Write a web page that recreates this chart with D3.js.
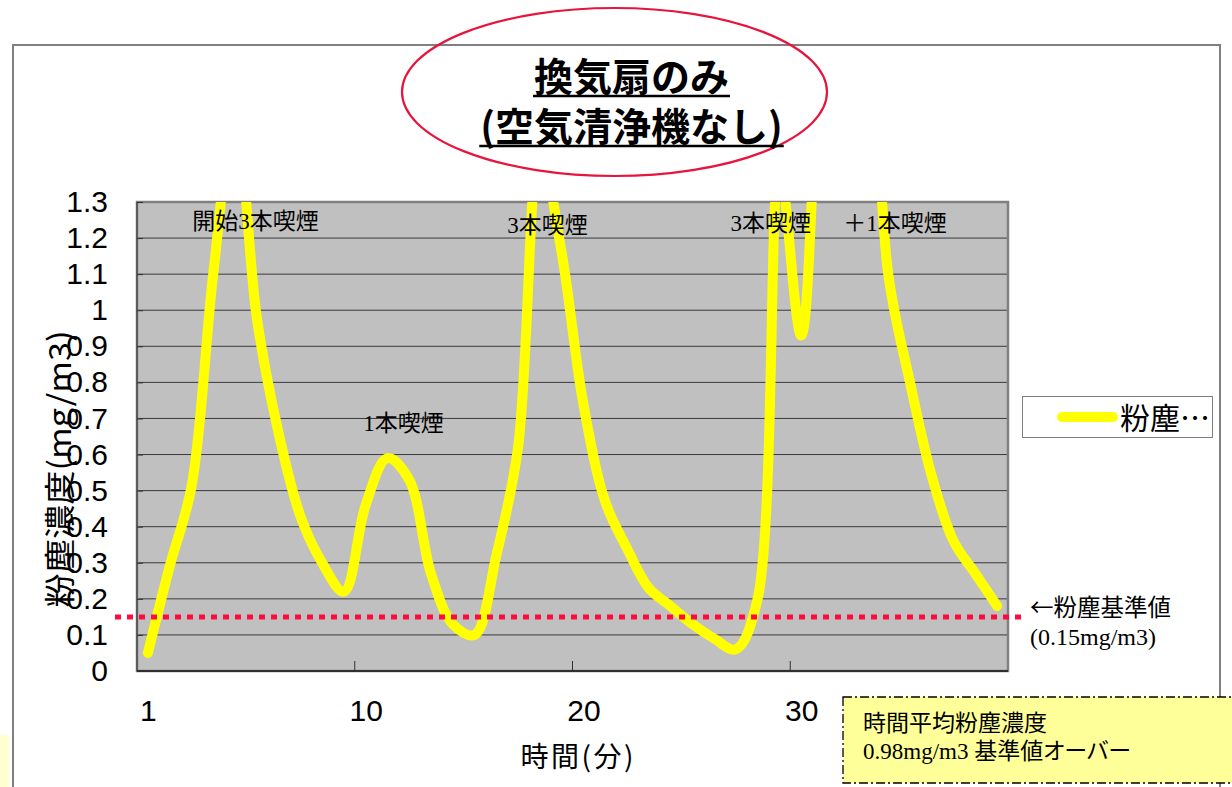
<!DOCTYPE html>
<html>
<head>
<meta charset="utf-8">
<script src="https://cdn.jsdelivr.net/npm/d3@7"></script>
<style>
  body { margin: 0; background: #ffffff; }
  svg { display: block; }
</style>
</head>
<body>
<svg id="chart" width="1232" height="787"></svg>
<script>
// Dust concentration (mg/m3), one reading per minute
const dust = [
  0.05, 0.29, 0.51, 1.10, 1.55, 0.98, 0.66, 0.43, 0.30, 0.22,
  0.46, 0.59, 0.53, 0.27, 0.13, 0.10, 0.32, 0.62, 1.45, 1.16,
  0.74, 0.47, 0.34, 0.23, 0.18, 0.13, 0.09, 0.06, 0.20, 1.40,
  0.93, 1.80, 2.10, 1.90, 1.10, 0.80, 0.54, 0.36, 0.27, 0.18
];
const yTicks = [0, 0.1, 0.2, 0.3, 0.4, 0.5, 0.6, 0.7, 0.8, 0.9, 1.0, 1.1, 1.2, 1.3];
const yTickLabels = ["0", "0.1", "0.2", "0.3", "0.4", "0.5", "0.6", "0.7", "0.8", "0.9", "1", "1.1", "1.2", "1.3"];
const xTickIndex = [0, 10, 20, 30];
const xTickLabels = ["1", "10", "20", "30"];
const xTickMarks = [10, 20, 30];
const standardValue = 0.15;

// Smoking events written inside the plot (position in minute index / concentration)
const eventLabels = ["開始3本喫煙", "1本喫煙", "3本喫煙", "3本喫煙", "＋1本喫煙"];
const eventIndex = [4.94, 11.74, 18.35, 28.61, 34.31];
const eventLevel = [1.25, 0.69, 1.239, 1.244, 1.244];

const svg = d3.select("#chart");
const plot = { left: 137, right: 1008, top: 202, bottom: 671 };

const x = d3.scaleLinear().domain([-0.5, dust.length - 0.5]).range([plot.left, plot.right]);
const y = d3.scaleLinear().domain([0, 1.3]).range([plot.bottom, plot.top]);

const sansJP = "'Noto Sans CJK JP', sans-serif";
const serifMix = "'Liberation Serif', 'Noto Sans CJK JP', serif";

// Outer frame
svg.append("rect")
  .attr("x", 13).attr("y", 45).attr("width", 1207).attr("height", 800)
  .attr("fill", "none").attr("stroke", "#808080").attr("stroke-width", 2);

// Pale note edge at the lower left
svg.append("rect")
  .attr("x", 0).attr("y", 735).attr("width", 9).attr("height", 52)
  .attr("fill", "#ffffd0");

// Title with ellipse
svg.append("ellipse")
  .attr("cx", 614.5).attr("cy", 92).attr("rx", 212.5).attr("ry", 84)
  .attr("fill", "none").attr("stroke", "#e8143c").attr("stroke-width", 2.2);

const titleLines = ["換気扇のみ", "(空気清浄機なし)"];
const titleBase = [91, 141];
titleLines.forEach((t, i) => {
  const txt = svg.append("text")
    .attr("x", 631.5).attr("y", titleBase[i])
    .attr("text-anchor", "middle")
    .attr("font-family", sansJP).attr("font-weight", "bold")
    .attr("font-size", 39).attr("fill", "#000")
    .text(t);
  const w = txt.node().getComputedTextLength();
  svg.append("line")
    .attr("x1", 631.5 - w / 2 - 1).attr("x2", 631.5 + w / 2 + 1)
    .attr("y1", titleBase[i] + 5).attr("y2", titleBase[i] + 5)
    .attr("stroke", "#000").attr("stroke-width", 2.5);
});

// Plot area
svg.append("rect")
  .attr("x", plot.left).attr("y", plot.top)
  .attr("width", plot.right - plot.left).attr("height", plot.bottom - plot.top)
  .attr("fill", "#c0c0c0");

// Horizontal gridlines
svg.append("g").selectAll("line")
  .data(yTicks.filter(d => d > 0 && d < 1.3))
  .join("line")
  .attr("x1", plot.left).attr("x2", plot.right)
  .attr("y1", d => y(d)).attr("y2", d => y(d))
  .attr("stroke", "#3a3a3a").attr("stroke-width", 1);

// Plot border
svg.append("rect")
  .attr("x", plot.left).attr("y", plot.top)
  .attr("width", plot.right - plot.left).attr("height", plot.bottom - plot.top)
  .attr("fill", "none").attr("stroke", "#808080").attr("stroke-width", 2.5);
svg.append("line")
  .attr("x1", plot.left).attr("x2", plot.left)
  .attr("y1", plot.top).attr("y2", plot.bottom)
  .attr("stroke", "#505050").attr("stroke-width", 1.5);
svg.append("line")
  .attr("x1", plot.left).attr("x2", plot.right)
  .attr("y1", plot.bottom).attr("y2", plot.bottom)
  .attr("stroke", "#303030").attr("stroke-width", 2);

// Y axis
const yAxis = svg.append("g")
  .attr("transform", `translate(${plot.left},0)`)
  .call(d3.axisLeft(y).tickValues(yTicks).tickFormat((d, i) => yTickLabels[i])
    .tickSize(-6).tickPadding(29));
yAxis.select(".domain").remove();
yAxis.selectAll("line").attr("stroke", "#303030");
yAxis.selectAll("text")
  .attr("font-family", "'Liberation Sans', Arial, sans-serif")
  .attr("font-size", 30).attr("fill", "#000");

// X axis
const xAxis = svg.append("g")
  .attr("transform", `translate(0,${plot.bottom})`)
  .call(d3.axisBottom(x).tickValues(xTickIndex).tickFormat((d, i) => xTickLabels[i])
    .tickSize(0).tickPadding(29));
xAxis.select(".domain").remove();
xAxis.selectAll("text")
  .attr("font-family", "'Liberation Sans', Arial, sans-serif")
  .attr("font-size", 30).attr("fill", "#000");

// Category tick marks between groups of ten minutes
svg.append("g").selectAll("line")
  .data(xTickMarks)
  .join("line")
  .attr("x1", d => x(d - 0.5)).attr("x2", d => x(d - 0.5))
  .attr("y1", plot.bottom).attr("y2", plot.bottom - 10)
  .attr("stroke", "#303030").attr("stroke-width", 1);

// Axis titles
svg.append("text")
  .attr("x", 577).attr("y", 767)
  .attr("text-anchor", "middle")
  .attr("font-family", sansJP).attr("font-size", 28).attr("fill", "#000")
  .attr("textLength", 113).attr("lengthAdjust", "spacing")
  .text("時間(分)");

svg.append("text")
  .attr("transform", "translate(71,469) rotate(-90)")
  .attr("text-anchor", "middle")
  .attr("font-family", sansJP).attr("font-size", 31).attr("fill", "#000")
  .attr("textLength", 277).attr("lengthAdjust", "spacingAndGlyphs")
  .text("粉塵濃度(mg/m3)");

// Dust series, clipped to the plot area
svg.append("clipPath").attr("id", "plotClip")
  .append("rect")
  .attr("x", plot.left).attr("y", plot.top)
  .attr("width", plot.right - plot.left).attr("height", plot.bottom - plot.top);

const line = d3.line()
  .x((d, i) => x(i))
  .y(d => y(d))
  .curve(d3.curveCatmullRom.alpha(0.5));

svg.append("path")
  .datum(dust)
  .attr("clip-path", "url(#plotClip)")
  .attr("d", line)
  .attr("fill", "none")
  .attr("stroke", "#ffff00")
  .attr("stroke-width", 10)
  .attr("stroke-linecap", "round")
  .attr("stroke-linejoin", "round");

// Standard value line
svg.append("line")
  .attr("x1", 115).attr("x2", 1022)
  .attr("y1", y(standardValue)).attr("y2", y(standardValue))
  .attr("stroke", "#ff0a3c").attr("stroke-width", 5)
  .attr("stroke-dasharray", "6,6");

// Event labels
svg.append("g").selectAll("text")
  .data(eventLabels)
  .join("text")
  .attr("x", (d, i) => x(eventIndex[i]))
  .attr("y", (d, i) => y(eventLevel[i]) + 8.5)
  .attr("text-anchor", "middle")
  .attr("font-family", serifMix).attr("font-size", 23).attr("fill", "#000")
  .text(d => d);

// Standard value note
svg.append("text")
  .attr("x", 1030).attr("y", 616)
  .attr("font-family", sansJP).attr("font-size", 23.5).attr("fill", "#000")
  .text("←粉塵基準値");
svg.append("text")
  .attr("x", 1030).attr("y", 645)
  .attr("font-family", "'Liberation Serif', serif").attr("font-size", 24).attr("fill", "#000")
  .text(`(${standardValue}mg/m3)`);

// Legend
svg.append("rect")
  .attr("x", 1022.5).attr("y", 396.5).attr("width", 190).attr("height", 41)
  .attr("fill", "#ffffff").attr("stroke", "#808080").attr("stroke-width", 1);
svg.append("line")
  .attr("x1", 1062).attr("x2", 1113).attr("y1", 417).attr("y2", 417)
  .attr("stroke", "#ffff00").attr("stroke-width", 10).attr("stroke-linecap", "round");
svg.append("text")
  .attr("x", 1120).attr("y", 429)
  .attr("font-family", sansJP).attr("font-size", 30).attr("fill", "#000")
  .text("粉塵…");

// Time-weighted average note
svg.append("rect")
  .attr("x", 843).attr("y", 697).attr("width", 420).attr("height", 86)
  .attr("fill", "#ffff99").attr("stroke", "#000").attr("stroke-width", 1.3)
  .attr("stroke-dasharray", "9,3,2,3");
svg.append("text")
  .attr("x", 863).attr("y", 731)
  .attr("font-family", sansJP).attr("font-size", 23).attr("fill", "#000")
  .text("時間平均粉塵濃度");
const avgLine = svg.append("text")
  .attr("x", 863).attr("y", 759)
  .attr("font-size", 23).attr("fill", "#000");
avgLine.append("tspan")
  .attr("font-family", "'Liberation Serif', serif")
  .text("0.98mg/m3 ");
avgLine.append("tspan")
  .attr("font-family", sansJP)
  .style("font-feature-settings", "'palt'")
  .text("基準値オーバー");
</script>
</body>
</html>
